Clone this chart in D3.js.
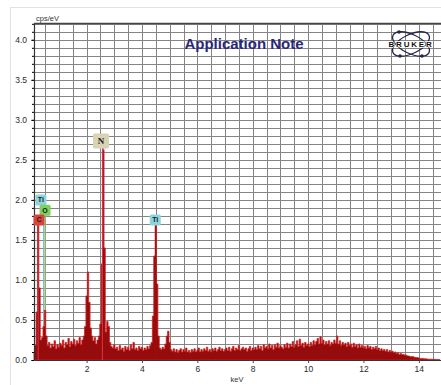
<!DOCTYPE html>
<html>
<head>
<meta charset="utf-8">
<script src="https://cdn.jsdelivr.net/npm/d3@7"></script>
<style>
  html, body { margin: 0; padding: 0; background: #fff; }
  svg { display: block; font-family: "Liberation Sans", Arial, sans-serif; }
</style>
</head>
<body>
<div id="chart"></div>
<script>
// EDS spectrum, channels of 0.05 keV starting at 0.10 keV (cps/eV)
const channelStart = 0.10, channelWidth = 0.05;
const counts = [
  // 0.10 - 1.05
  0.10, 0.18, 0.60, 1.68, 0.90, 0.25, 0.28, 0.42, 0.62, 0.30, 0.18, 0.22, 0.15, 0.20, 0.17, 0.24, 0.14, 0.19, 0.16, 0.21,
  // 1.10 - 2.05
  0.18, 0.25, 0.15, 0.22, 0.19, 0.27, 0.17, 0.23, 0.20, 0.26, 0.18, 0.24, 0.21, 0.28, 0.19, 0.25, 0.30, 0.42, 0.80, 1.10,
  // 2.10 - 3.05
  0.72, 0.40, 0.30, 0.24, 0.28, 0.20, 0.25, 0.30, 0.45, 1.20, 2.62, 1.40, 0.35, 0.48, 0.42, 0.22, 0.17, 0.15, 0.19, 0.14,
  // 3.10 - 4.05
  0.16, 0.12, 0.18, 0.13, 0.15, 0.11, 0.17, 0.13, 0.16, 0.12, 0.19, 0.14, 0.22, 0.13, 0.15, 0.12, 0.17, 0.14, 0.16, 0.12,
  // 4.10 - 5.05
  0.15, 0.13, 0.17, 0.14, 0.18, 0.22, 0.55, 1.30, 1.68, 0.95, 0.30, 0.15, 0.13, 0.16, 0.14, 0.20, 0.30, 0.36, 0.22, 0.13,
  // 5.10 - 6.05
  0.11, 0.14, 0.10, 0.13, 0.09, 0.12, 0.14, 0.10, 0.13, 0.11, 0.15, 0.10, 0.12, 0.09, 0.13, 0.11, 0.14, 0.10, 0.12, 0.15,
  // 6.10 - 7.05
  0.10, 0.13, 0.11, 0.14, 0.12, 0.16, 0.11, 0.13, 0.10, 0.14, 0.12, 0.15, 0.11, 0.13, 0.16, 0.12, 0.14, 0.11, 0.13, 0.15,
  // 7.10 - 8.05
  0.12, 0.16, 0.11, 0.14, 0.17, 0.12, 0.15, 0.13, 0.18, 0.12, 0.14, 0.16, 0.13, 0.15, 0.11, 0.14, 0.17, 0.12, 0.15, 0.13,
  // 8.10 - 9.05
  0.16, 0.13, 0.18, 0.14, 0.17, 0.12, 0.19, 0.15, 0.17, 0.14, 0.20, 0.15, 0.18, 0.13, 0.19, 0.16, 0.21, 0.15, 0.18, 0.16,
  // 9.10 - 10.05
  0.14, 0.19, 0.16, 0.21, 0.15, 0.20, 0.17, 0.23, 0.16, 0.19, 0.24, 0.17, 0.26, 0.18, 0.21, 0.16, 0.22, 0.18, 0.20, 0.17,
  // 10.10 - 11.05
  0.22, 0.18, 0.24, 0.19, 0.23, 0.27, 0.20, 0.29, 0.21, 0.25, 0.19, 0.23, 0.20, 0.24, 0.18, 0.22, 0.20, 0.25, 0.21, 0.30,
  // 11.10 - 12.05
  0.20, 0.24, 0.18, 0.22, 0.19, 0.21, 0.17, 0.22, 0.18, 0.20, 0.16, 0.21, 0.17, 0.19, 0.15, 0.20, 0.16, 0.18, 0.15, 0.17,
  // 12.10 - 13.05
  0.14, 0.18, 0.15, 0.17, 0.13, 0.16, 0.14, 0.17, 0.13, 0.15, 0.12, 0.14, 0.12, 0.13, 0.11, 0.13, 0.10, 0.12, 0.10, 0.11,
  // 13.10 - 14.05
  0.09, 0.10, 0.08, 0.09, 0.07, 0.08, 0.07, 0.07, 0.06, 0.06, 0.05, 0.05, 0.04, 0.045, 0.04, 0.035, 0.03, 0.03, 0.025, 0.02,
  // 14.10 - 14.75
  0.02, 0.02, 0.015, 0.015, 0.012, 0.01, 0.01, 0.01, 0.008, 0.008, 0.006, 0.006, 0.005, 0.005
];

// element markers
const elements      = ["Ti", "O", "C", "N", "Ti"];
const elementEnergy = [0.45, 0.50, 0.25, 2.60, 4.50];   // keV of marker line
const labelEnergy   = [0.35, 0.50, 0.28, 2.52, 4.48];   // keV where the tag sits
const markerHeight  = [2.00, 1.87, 1.75, 2.73, 1.75];   // cps/eV

const xTicks = [2, 4, 6, 8, 10, 12, 14];
const yTicks = [0, 0.5, 1.0, 1.5, 2.0, 2.5, 3.0, 3.5, 4.0];

const tagStyle = {
  Ti: {fill: "#8ed4de", line: "#6fb8d0"},
  O:  {fill: "#7ed05a", line: "#9cc070"},
  C:  {fill: "#d8443a", line: "#e03030"},
  N:  {fill: "#d9d2b4", line: "#8a7fd0"}
};

const W = 441, H = 385;
const svg = d3.select("#chart").append("svg")
  .attr("width", W).attr("height", H);

// outer panel
svg.append("rect")
  .attr("x", 10.5).attr("y", 7.5).attr("width", W).attr("height", H)
  .attr("fill", "#fff").attr("stroke", "#e2e2e2");

const x = d3.scaleLinear().domain([0.1, 14.8]).range([34, 441]);
const y = d3.scaleLinear().domain([0, 4.21]).range([360, 23]);

// grid
const g = svg.append("g");
g.selectAll(".vg").data(d3.range(0.5, 14.8, 0.5)).join("line")
  .attr("x1", d => Math.round(x(d)) + 0.5).attr("x2", d => Math.round(x(d)) + 0.5)
  .attr("y1", y(4.21)).attr("y2", y(0))
  .attr("stroke", "#858585").attr("stroke-width", 1);
g.selectAll(".hg").data(d3.range(1, 43)).join("line")
  .attr("x1", x(0.1)).attr("x2", W)
  .attr("y1", d => Math.round(y(d / 10)) + 0.5).attr("y2", d => Math.round(y(d / 10)) + 0.5)
  .attr("stroke", "#858585").attr("stroke-width", 1);

// marker lines behind spectrum
const markers = elements.map((el, i) => ({el, e: elementEnergy[i], le: labelEnergy[i], h: markerHeight[i]}));
svg.selectAll(".mk").data(markers).join("line")
  .attr("x1", d => x(d.e)).attr("x2", d => x(d.e))
  .attr("y1", y(0)).attr("y2", d => y(d.h))
  .attr("stroke", d => tagStyle[d.el].line)
  .attr("stroke-width", d => d.el === "N" ? 2.2 : 1.2);

// spectrum
const spec = counts.map((c, i) => [channelStart + i * channelWidth, c]);
const area = d3.area()
  .x(d => x(d[0])).y0(y(0)).y1(d => y(d[1]))
  .curve(d3.curveStep);
svg.append("path").datum(spec)
  .attr("d", area)
  .attr("fill", "#960b0b")
  .attr("stroke", "#d42222").attr("stroke-width", 0.8);

// thin red lines over tall peaks (C, N, Ti)
svg.selectAll(".pk").data(markers.filter(d => d.el === "C" || d.el === "N" || (d.el === "Ti" && d.e > 1)))
  .join("line")
  .attr("x1", d => x(d.e) - (d.el === "N" ? 0.8 : 0)).attr("x2", d => x(d.e) - (d.el === "N" ? 0.8 : 0))
  .attr("y1", y(0)).attr("y2", d => y(d.h) + 4)
  .attr("stroke", d => d.el === "Ti" ? "#9a1010" : "#e0304a").attr("stroke-width", 1);

// axes
const yAxis = svg.append("g").attr("transform", "translate(34,0)")
  .call(d3.axisLeft(y).tickValues(yTicks).tickFormat(d3.format(".1f")).tickSize(3).tickSizeOuter(0));
svg.append("g").attr("transform", "translate(34,0)")
  .call(d3.axisLeft(y).tickValues(d3.range(0, 43).map(d => d / 10)).tickFormat("").tickSize(2).tickSizeOuter(0))
  .select(".domain").remove();
const xAxis = svg.append("g").attr("transform", "translate(0,360)")
  .call(d3.axisBottom(x).tickValues(xTicks).tickFormat(d3.format("d")).tickSize(3).tickSizeOuter(0));
[yAxis, xAxis].forEach(a => {
  a.selectAll("text").attr("fill", "#2a2a2a").style("font-size", "8.5px");
  a.selectAll("line").attr("stroke", "#444");
  a.select(".domain").attr("stroke", "#333").attr("stroke-width", 1.2);
});
yAxis.selectAll("text").attr("dx", "-1");
// top frame
svg.append("line").attr("x1", 34).attr("x2", W).attr("y1", 23.5).attr("y2", 23.5)
  .attr("stroke", "#444").attr("stroke-width", 1.3);

svg.append("text").attr("x", 36).attr("y", 21).text("cps/eV")
  .attr("font-size", 7.5).attr("fill", "#333");
svg.append("text").attr("x", 237).attr("y", 382).attr("text-anchor", "middle").text("keV")
  .attr("font-size", 7.5).attr("fill", "#333");

// element tags
const tags = svg.selectAll(".tag").data(markers).join("g")
  .attr("transform", d => `translate(${x(d.le)},${y(d.h)})`);
tags.append("rect")
  .attr("x", d => d.el === "N" ? -8 : -5.5).attr("y", d => d.el === "N" ? -8 : -5.5)
  .attr("width", d => d.el === "N" ? 16 : 11).attr("height", d => d.el === "N" ? 15 : 11)
  .attr("rx", 1.5)
  .attr("fill", d => tagStyle[d.el].fill);
tags.append("text")
  .attr("text-anchor", "middle").attr("dy", d => d.el === "N" ? "3" : "2.5")
  .attr("font-size", d => d.el === "N" ? 9 : 7).attr("font-weight", "bold")
  .attr("font-family", d => d.el === "N" ? "'Liberation Serif', serif" : null)
  .attr("fill", "#1a1a1a")
  .text(d => d.el);

// title
svg.append("text").attr("x", 244).attr("y", 49).attr("text-anchor", "middle")
  .text("Application Note")
  .attr("font-size", 15).attr("font-weight", "bold").attr("fill", "#28287a");

// Bruker logo
const logo = svg.append("g").attr("transform", "translate(411,44)");
[-26, 26].forEach(a => {
  logo.append("ellipse").attr("rx", 20).attr("ry", 9.5)
    .attr("transform", `rotate(${a})`)
    .attr("fill", "none").attr("stroke", "#26264a").attr("stroke-width", 1.3);
});
[[-12, -12], [11, 12], [-11, 12]].forEach(p => {
  logo.append("circle").attr("cx", p[0]).attr("cy", p[1]).attr("r", 1.8).attr("fill", "#26264a");
});
logo.append("text").attr("text-anchor", "middle").attr("dy", 3)
  .text("BRUKER")
  .attr("font-size", 8).attr("font-weight", "bold").attr("letter-spacing", 1.8)
  .attr("fill", "#111")
  .attr("stroke", "#fff").attr("stroke-width", 1.5).attr("paint-order", "stroke");
</script>
</body>
</html>
